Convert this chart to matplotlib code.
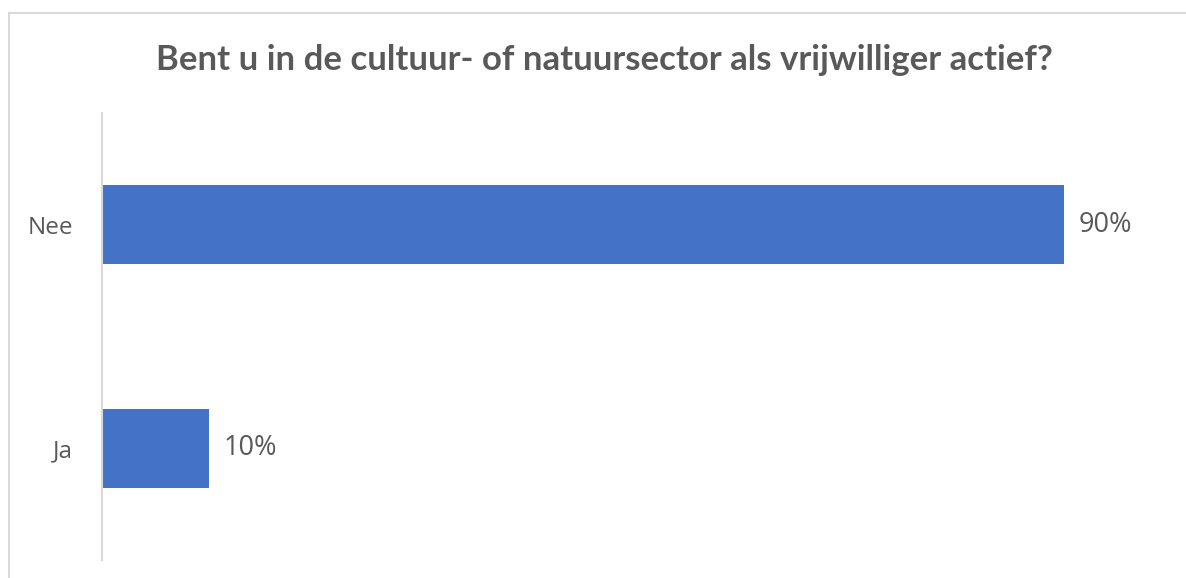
import matplotlib
matplotlib.use("Agg")
import matplotlib.pyplot as plt
from matplotlib.patches import Rectangle

categories = ["Ja", "Nee"]
values = [10, 90]
value_labels = ["10%", "90%"]
title = "Bent u in de cultuur- of natuursector als vrijwilliger actief?"

W, H = 1186, 578
fig = plt.figure(figsize=(W / 100, H / 100), dpi=100)
fig.patch.set_facecolor("white")

# outer chart border (left and top visible)
fig.add_artist(Rectangle((9 / W, -0.1), 1.2, (H - 13) / H + 0.1, transform=fig.transFigure,
                         fill=False, edgecolor="#D9D9D9", linewidth=1.5))

ax = fig.add_axes([102 / W, 1 - 560 / H, (1171 - 102) / W, (560 - 113) / H])
bars = ax.barh(range(len(categories)), values, height=0.355, color="#4472C4")
ax.set_xlim(0, 100)
ax.set_ylim(-0.5, 1.5)
ax.set_yticks(range(len(categories)))
ax.set_yticklabels(categories, fontsize=17.5, color="#595959", family="Open Sans")
ax.tick_params(axis="y", length=0, pad=21)
ax.set_xticks([])
for s in ["top", "right", "bottom"]:
    ax.spines[s].set_visible(False)
ax.spines["left"].set_color("#D9D9D9")
ax.spines["left"].set_linewidth(1.5)
for b, lab in zip(bars, value_labels):
    ax.text(b.get_width() + 1.4, b.get_y() + b.get_height() / 2, lab, va="center", ha="left",
            fontsize=19.5, color="#595959", family="Open Sans")

fig.text(604 / W, 1 - 60 / H, title, ha="center", va="center", fontsize=25,
         fontweight="bold", color="#595959", family="Lato")

fig.savefig("out.png", dpi=100)
